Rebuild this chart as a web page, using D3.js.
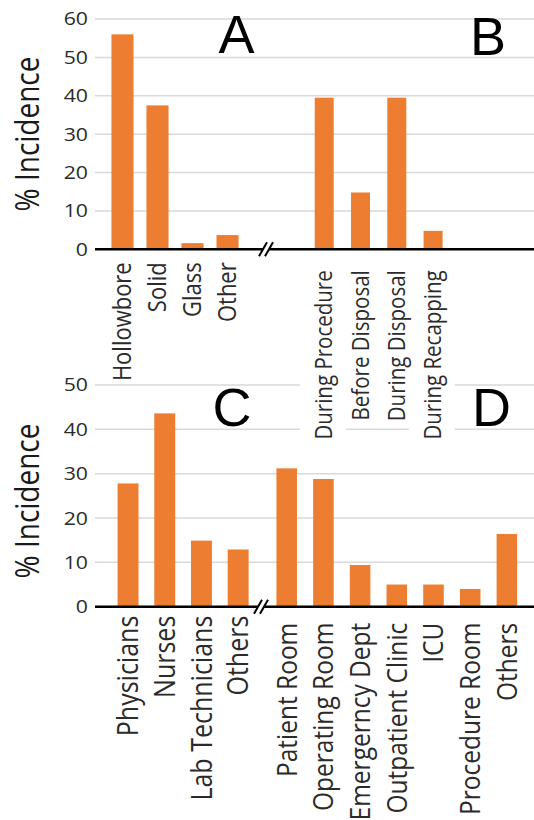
<!DOCTYPE html>
<html>
<head>
<meta charset="utf-8">
<script src="https://cdn.jsdelivr.net/npm/d3@7"></script>
<style>
  body { margin: 0; background: #fff; }
  svg { display: block; }
</style>
</head>
<body>
<div id="chart"></div>
<script>
// Data
const needleTypes = ["Hollowbore", "Solid", "Glass", "Other"];
const needleValues = [56, 37.5, 1.6, 3.7];

const injuryTimes = ["During Procedure", "Before Disposal", "During Disposal", "During Recapping"];
const injuryValues = [39.5, 14.8, 39.5, 4.8];

const staffGroups = ["Physicians", "Nurses", "Lab Technicians", "Others"];
const staffValues = [27.8, 43.6, 14.9, 12.9];

const locations = ["Patient Room", "Operating Room", "Emergerncy Dept", "Outpatient Clinic", "ICU", "Procedure Room", "Others"];
const locationValues = [31.2, 28.8, 9.4, 5.0, 5.0, 4.0, 16.4];

const topTicks = [0, 10, 20, 30, 40, 50, 60];
const bottomTicks = [0, 10, 20, 30, 40, 50];

const W = 534, H = 820;
const barColor = "#ED7D31";
const gridColor = "#d9d9d9";
const textColor = "#2b2b2b";
const font = "'Open Sans', sans-serif";
const stretch = 1.15; // the figure's text looks stretched sideways

const svg = d3.select("#chart").append("svg")
    .attr("width", W)
    .attr("height", H);

svg.append("rect").attr("width", W).attr("height", H).attr("fill", "#fff");

// layers so label backgrounds of the top panel cover the bottom gridlines
const bottomLayer = svg.append("g");
const topLayer = svg.append("g");

function drawPanel(g, opts) {
    const y = d3.scaleLinear().domain(opts.domain).range([opts.y0, opts.y1]);

    // gridlines
    g.selectAll(".grid")
        .data(opts.ticks.filter(t => t > 0))
        .enter().append("line")
        .attr("x1", 95).attr("x2", W)
        .attr("y1", d => y(d)).attr("y2", d => y(d))
        .attr("stroke", gridColor)
        .attr("stroke-width", 1.5);

    // y tick labels
    g.selectAll(".ytick")
        .data(opts.ticks)
        .enter().append("text")
        .attr("transform", d => `translate(88,${y(d)}) scale(${stretch},1)`)
        .attr("dy", "0.35em")
        .attr("text-anchor", "end")
        .style("font-family", font)
        .style("font-size", "18.5px")
        .style("fill", textColor)
        .text(d => d);

    // y axis title
    g.append("text")
        .attr("transform", `translate(39,${opts.titleY}) rotate(-90) scale(1,${stretch})`)
        .attr("text-anchor", "middle")
        .style("font-family", font)
        .style("font-size", "28px")
        .style("fill", "#1a1a1a")
        .text("% Incidence");

    const groups = opts.groups.map(grp => {
        const x = d3.scaleBand()
            .domain(grp.cats)
            .range(grp.range)
            .padding(grp.pad);
        return { x: x, grp: grp };
    });

    // bars
    groups.forEach(({ x, grp }) => {
        g.selectAll(null)
            .data(grp.cats.map((c, i) => ({ c: c, v: grp.vals[i] })))
            .enter().append("rect")
            .attr("x", d => x(d.c))
            .attr("width", x.bandwidth())
            .attr("y", d => y(d.v))
            .attr("height", d => y(0) - y(d.v))
            .style("fill", barColor);
    });

    // baseline with a break
    const y0 = y(0);
    g.append("line")
        .attr("x1", 95).attr("x2", W)
        .attr("y1", y0).attr("y2", y0)
        .attr("stroke", "#000")
        .attr("stroke-width", 2.5);
    const bx = opts.breakX;
    g.append("polygon")
        .attr("points", `${bx - 6},${y0 + 3} ${bx + 1},${y0 + 3} ${bx + 4},${y0 - 3} ${bx - 3},${y0 - 3}`)
        .attr("fill", "#fff");
    [-4, 2].forEach(off => {
        g.append("line")
            .attr("x1", bx + off - 4).attr("y1", y0 + 7)
            .attr("x2", bx + off + 4).attr("y2", y0 - 7)
            .attr("stroke", "#000")
            .attr("stroke-width", 2);
    });

    // category labels (rotated); white boxes behind them go in their own layer first
    const bgLayer = g.append("g").attr("transform", `translate(0,${y0})`);
    const labelLayer = g.append("g").attr("transform", `translate(0,${y0})`);
    groups.forEach(({ x, grp }) => {
        labelLayer.selectAll(null)
            .data(grp.cats)
            .enter().append("text")
            .attr("transform", d => `translate(${x(d) + x.bandwidth() / 2},0) rotate(-90) scale(1,${stretch})`)
            .attr("x", -grp.labelOffset)
            .attr("dy", "0.35em")
            .attr("text-anchor", "end")
            .style("font-family", font)
            .style("font-size", grp.fontSize + "px")
            .style("fill", textColor)
            .text(d => d)
            .each(function (d) {
                if (!grp.background) return;
                const b = this.getBBox();
                const cx = x(d) + x.bandwidth() / 2;
                // bbox is in rotated space: x runs along -y, y along x
                bgLayer.append("rect")
                    .attr("x", cx + b.y * stretch - 7)
                    .attr("y", -(b.x + b.width) - 2)
                    .attr("width", b.height * stretch + 14)
                    .attr("height", b.width + 4)
                    .attr("fill", "#fff");
            });
    });

    // panel letters
    opts.letters.forEach(l => {
        g.append("text")
            .attr("x", l.x).attr("y", l.y)
            .attr("text-anchor", "middle")
            .style("font-family", "'Liberation Sans', Arial, sans-serif")
            .style("font-size", "54px")
            .style("fill", "#000")
            .text(l.t);
    });
}

// Bottom panel (C, D)
drawPanel(bottomLayer, {
    domain: [0, 50], y0: 606.7, y1: 385,
    ticks: bottomTicks, titleY: 501, breakX: 262,
    groups: [
        { cats: staffGroups, vals: staffValues, range: [101.8, 264.4], pad: 0.43, fontSize: 25, labelOffset: 9 },
        { cats: locations, vals: locationValues, range: [260.3, 533.3], pad: 0.44, fontSize: 24.5, labelOffset: 16 }
    ],
    letters: [{ t: "C", x: 232, y: 426 }, { t: "D", x: 491.5, y: 426 }]
});

// Top panel (A, B)
drawPanel(topLayer, {
    domain: [0, 60], y0: 249.3, y1: 19,
    ticks: topTicks, titleY: 134, breakX: 267,
    groups: [
        { cats: needleTypes, vals: needleValues, range: [98.5, 251.5], pad: 0.37, fontSize: 22, labelOffset: 13, background: true },
        { cats: injuryTimes, vals: injuryValues, range: [297.4, 459.9], pad: 0.477, fontSize: 20.5, labelOffset: 21, background: true }
    ],
    letters: [{ t: "A", x: 236.5, y: 53 }, { t: "B", x: 488, y: 55 }]
});
</script>
</body>
</html>
